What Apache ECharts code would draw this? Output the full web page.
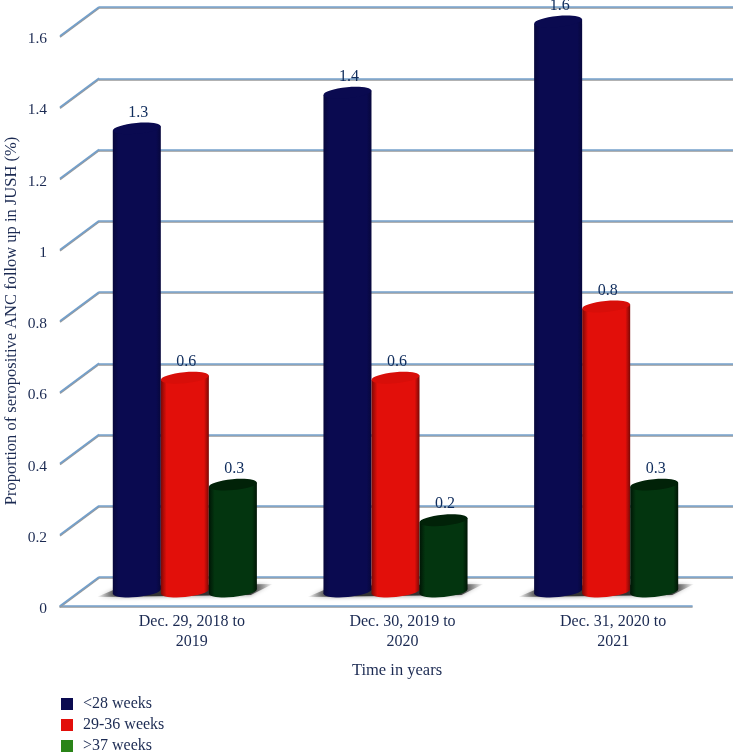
<!DOCTYPE html>
<html>
<head>
<meta charset="utf-8">
<style>
  html, body { margin: 0; padding: 0; background: #fff; }
  #main { width: 737px; height: 752px; }
</style>
</head>
<body>
<div id="main"></div>
<script src="https://cdn.jsdelivr.net/npm/echarts@6/dist/echarts.min.js"></script>
<script>
var categories = ["Dec. 29, 2018 to\n2019", "Dec. 30, 2019 to\n2020", "Dec. 31, 2020 to\n2021"];
var under28 = [1.3, 1.4, 1.6];
var weeks29to36 = [0.6, 0.6, 0.8];
var over37 = [0.3, 0.2, 0.3];
var wallTicks = [0, 0.2, 0.4, 0.6, 0.8, 1, 1.2, 1.4, 1.6];

var FONT = '"Liberation Serif", serif';
var TEXT = "#1b2a52";
var LINE = "#74a0cb";
// the "3d" depth of the floor, front edge to back wall
var DEPTH_X = 39, DEPTH_Y = 29;

function shade(edge, mid) {
  return {
    type: "linear", x: 0, y: 0, x2: 1, y2: 0,
    colorStops: [
      { offset: 0, color: edge },
      { offset: 0.12, color: mid },
      { offset: 0.9, color: mid },
      { offset: 1, color: edge }
    ]
  };
}

function cylinder(slot, body, cap) {
  return function (params, api) {
    var pos = api.coord([api.value(0), api.value(1)]);
    var base = api.coord([api.value(0), 0]);
    var w = api.size([1, 0])[0] * 0.228;
    var x = pos[0] + DEPTH_X / 2 + (slot - 1.5) * w;
    var top = pos[1] - DEPTH_Y / 2;
    var bottom = base[1] - DEPTH_Y / 2;
    var cx = x + w / 2;
    var tilt = 0.09;
    var dy = (w / 2) * tilt;
    return {
      type: "group",
      children: [
        { type: "ellipse", originX: cx, originY: bottom, rotation: tilt,
          shape: { cx: cx, cy: bottom, rx: w / 2, ry: 5.5 }, style: { fill: body } },
        { type: "polygon",
          shape: { points: [[x, top + dy], [x + w, top - dy], [x + w, bottom - dy], [x, bottom + dy]] },
          style: { fill: body } },
        { type: "ellipse", originX: cx, originY: top, rotation: tilt,
          shape: { cx: cx, cy: top, rx: w / 2, ry: 5.5 }, style: { fill: cap } },
        { type: "text",
          style: { x: cx + 1.5, y: top - 16, text: String(api.value(1)), align: "center", verticalAlign: "middle",
            fill: "#0f2c5c", font: "16px " + FONT } }
      ]
    };
  };
}

function floorShadow(params, api) {
  var base = api.coord([api.value(0), 0]);
  var c = base[0] + DEPTH_X / 2;
  var y = base[1];
  return {
    type: "polygon",
    shape: { points: [[c - 88, y - 9], [c - 62, y - 20], [c + 88, y - 22], [c + 66, y - 11]] },
    style: {
      fill: {
        type: "linear", x: 0, y: 0, x2: 1, y2: 0,
        colorStops: [
          { offset: 0, color: "rgba(50,50,50,0)" },
          { offset: 0.14, color: "#333" },
          { offset: 0.86, color: "#333" },
          { offset: 1, color: "rgba(50,50,50,0)" }
        ]
      },
      shadowBlur: 4, shadowColor: "rgba(50,50,50,0.6)"
    }
  };
}

function wallEdge(params, api) {
  var y = api.coord([0, api.value(1)])[1];
  var x = params.coordSys.x;
  return {
    type: "line",
    shape: { x1: x, y1: y, x2: x + DEPTH_X, y2: y - DEPTH_Y },
    style: { stroke: LINE, lineWidth: 1.6, shadowColor: "#999", shadowOffsetY: 1 }
  };
}

function pairs(list) {
  return list.map(function (v, i) { return [i, v]; });
}

function barSeries(name, legendColor, slot, values, edge, mid, cap) {
  return {
    name: name,
    type: "custom",
    xAxisIndex: 0, yAxisIndex: 0,
    z: 5,
    itemStyle: { color: legendColor },
    encode: { x: 0, y: 1 },
    data: pairs(values),
    renderItem: cylinder(slot, shade(edge, mid), cap)
  };
}

var chart = echarts.init(document.getElementById("main"));
chart.setOption({
  animation: false,
  backgroundColor: "#fff",
  textStyle: { fontFamily: FONT },
  legend: {
    orient: "vertical", left: 56, top: 691, height: 100,
    itemWidth: 12, itemHeight: 12, itemGap: 5,
    icon: "rect",
    textStyle: { color: TEXT, fontSize: 16, fontFamily: FONT, padding: [0, 0, 0, 5] },
    data: ["<28 weeks", "29-36 weeks", ">37 weeks"]
  },
  grid: [
    { left: 60, top: 36, width: 632, height: 570, outerBoundsMode: "none" },     // front edge of the floor
    { left: 99, top: 7, width: 634, height: 570, outerBoundsMode: "none" },      // back wall
    { left: 86.5, top: 39, width: 632, height: 570, outerBoundsMode: "none" }    // all tick labels, nudged off the edges
  ],
  xAxis: [
    { type: "category", gridIndex: 0, data: categories,
      axisLine: { lineStyle: { color: LINE, width: 1.6, shadowColor: "#999", shadowOffsetY: 1 } },
      axisTick: { show: false }, axisLabel: { show: false } },
    { type: "category", gridIndex: 1, data: categories, show: false },
    { type: "category", gridIndex: 2, data: categories,
      axisLine: { show: false }, axisTick: { show: false },
      axisLabel: { color: TEXT, fontSize: 16, fontFamily: FONT, lineHeight: 20, margin: 3 },
      name: "Time in years", nameLocation: "middle", nameGap: 53,
      nameTextStyle: { color: TEXT, fontSize: 16.5, fontFamily: FONT, padding: [0, 11, 0, 0] } }
  ],
  yAxis: [
    { type: "value", gridIndex: 0, min: 0, max: 1.6, interval: 0.2,
      axisLine: { show: false }, axisTick: { show: false }, splitLine: { show: false }, axisLabel: { show: false },
      name: "Proportion of seropositive ANC follow up in JUSH (%)",
      nameLocation: "middle", nameRotate: 90, nameGap: 40,
      nameTextStyle: { color: TEXT, fontSize: 16.5, fontFamily: FONT } },
    { type: "value", gridIndex: 1, min: 0, max: 1.6, interval: 0.2,
      axisLine: { show: false }, axisTick: { show: false }, axisLabel: { show: false },
      splitLine: { lineStyle: { color: LINE, width: 1.6, shadowColor: "#999", shadowOffsetY: 1 } } },
    { type: "value", gridIndex: 2, min: 0, max: 1.6, interval: 0.2,
      axisLine: { show: false }, axisTick: { show: false }, splitLine: { show: false },
      axisLabel: { color: TEXT, fontSize: 15.5, fontFamily: FONT, margin: 39.5 } }
  ],
  series: [
    { type: "custom", xAxisIndex: 0, yAxisIndex: 0, z: 3, silent: true,
      encode: { x: 0, y: 1 }, data: wallTicks.map(function (v) { return [0, v]; }), renderItem: wallEdge },
    { type: "custom", xAxisIndex: 0, yAxisIndex: 0, z: 4, silent: true,
      encode: { x: 0, y: 1 }, data: pairs(categories.map(function () { return 0; })), renderItem: floorShadow },
    barSeries("<28 weeks", "#0a0a50", 0, under28, "#07073c", "#0a0a50", "#0a0a50"),
    barSeries("29-36 weeks", "#e20f0a", 1, weeks29to36, "#7a0805", "#e20f0a", "#d80e09"),
    barSeries(">37 weeks", "#2a8418", 2, over37, "#001505", "#03350f", "#012208")
  ]
});
</script>
</body>
</html>
